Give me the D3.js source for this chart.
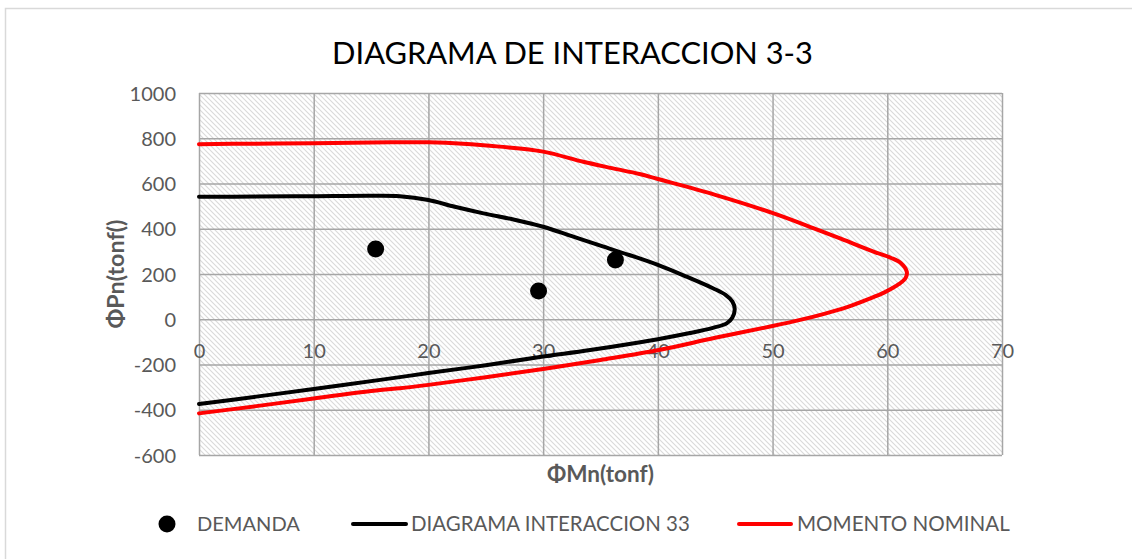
<!DOCTYPE html>
<html><head><meta charset="utf-8">
<script src="https://cdn.jsdelivr.net/npm/d3@7"></script>
<style>
html,body{margin:0;padding:0;background:#fff;}
svg{display:block;font-family:Lato,"Open Sans",sans-serif;}
</style></head>
<body>
<svg id="chart" width="1132" height="559"></svg>
<script>
// ---- data ----
const title = "DIAGRAMA DE INTERACCION 3-3";
const xTitle = "ΦMn(tonf)";
const yTitle = "ΦPn(tonf()";
const xTicks = [0, 10, 20, 30, 40, 50, 60, 70];
const yTicks = [-600, -400, -200, 0, 200, 400, 600, 800, 1000];
const seriesNames = ["DEMANDA", "DIAGRAMA INTERACCION 33", "MOMENTO NOMINAL"];

const demandaM = [15.4, 29.6, 36.3];
const demandaP = [310, 125, 262];

const diagM = [0, 5, 10, 15, 17.5, 20, 22.3, 24.8, 27.5, 30, 32.5, 35, 37.5, 40, 42.5, 44.8, 45.9, 46.5, 46.7, 46.5, 46.0, 44.8, 42.8, 40, 34.1, 30, 25, 20, 15.8, 10, 5, 0];
const diagP = [541, 542, 544, 546, 544, 527, 497, 468, 440, 409, 367, 325, 284, 240, 188, 137, 108, 78, 45, 8, -18, -38, -61, -88, -136, -165, -203, -238, -268, -308, -342, -375];

const nomM = [0, 5, 10, 15, 17.5, 20, 23, 26.2, 30, 33.5, 36, 38.4, 40, 45, 50.1, 53.6, 56, 58.8, 60.3, 61.2, 61.7, 61.6, 61.0, 59.8, 58.3, 56.5, 54.5, 52.4, 50, 45, 40.2, 35, 30, 25, 20, 17.5, 15.8, 10, 5, 0];
const nomP = [774, 776, 778, 781, 782, 782, 776, 763, 741, 696, 668, 642, 620, 550, 468, 402, 355, 299, 272, 248, 210, 183, 155, 120, 88, 54, 24, -3, -30, -82, -135, -180, -220, -256, -290, -305, -313, -350, -384, -416];

// ---- layout ----
const svg = d3.select("#chart");
const W = 1132, H = 559;
const plot = {left: 199, right: 1002, top: 93, bottom: 455};
const textColor = "#595959";

const x = d3.scaleLinear().domain([0, 70]).range([plot.left, plot.right]);
const y = d3.scaleLinear().domain([-600, 1000]).range([plot.bottom, plot.top]);

// outer chart border
svg.append("rect").attr("x", 5.5).attr("y", 8.5).attr("width", W + 20).attr("height", H + 20)
  .attr("fill", "#fff").attr("stroke", "#d9d9d9").attr("stroke-width", 1.5);

// hatch pattern
const defs = svg.append("defs");
const pat = defs.append("pattern").attr("id", "hatch").attr("patternUnits", "userSpaceOnUse")
  .attr("width", 5).attr("height", 5);
pat.append("rect").attr("width", 5).attr("height", 5).attr("fill", "#fff");
pat.append("path").attr("d", "M-1,-1 L6,6 M-1,4 L1,6 M4,-1 L6,1")
  .attr("stroke", "#dadada").attr("stroke-width", 1.1);

svg.append("rect").attr("x", plot.left).attr("y", plot.top)
  .attr("width", plot.right - plot.left).attr("height", plot.bottom - plot.top)
  .attr("fill", "url(#hatch)");

// gridlines via axes
const gridColor = "#a6a6a6";
const gx = svg.append("g").attr("transform", `translate(0,${plot.bottom})`)
  .call(d3.axisBottom(x).tickValues(xTicks).tickSize(-(plot.bottom - plot.top)).tickFormat(""));
const gy = svg.append("g").attr("transform", `translate(${plot.left},0)`)
  .call(d3.axisLeft(y).tickValues(yTicks).tickSize(-(plot.right - plot.left)).tickFormat(""));
[gx, gy].forEach(g => {
  g.select(".domain").remove();
  g.selectAll("line").attr("stroke", gridColor).attr("stroke-width", 1.5);
});

const fmt = d => String(d);

// y tick labels
const yAx = svg.append("g").attr("transform", `translate(${plot.left - 23},0)`)
  .call(d3.axisLeft(y).tickValues(yTicks).tickSize(0).tickPadding(0).tickFormat(fmt));
yAx.select(".domain").remove();
yAx.selectAll("text").attr("fill", textColor).style("font-size", "20px")
  .style("font-family", "Lato, sans-serif").attr("dy", "0.36em");

// x tick labels, placed along the zero line
const xAx = svg.append("g").attr("transform", `translate(0,${y(0)})`)
  .call(d3.axisBottom(x).tickValues(xTicks).tickSize(0).tickPadding(0).tickFormat(fmt));
xAx.select(".domain").remove();
xAx.selectAll("text").attr("fill", textColor).style("font-size", "20px")
  .style("font-family", "Lato, sans-serif").attr("dy", "1.95em");

// curves
const line = d3.line().x(d => x(d[0])).y(d => y(d[1])).curve(d3.curveCatmullRom.alpha(0.5));
const diag = diagM.map((m, i) => [m, diagP[i]]);
const nom = nomM.map((m, i) => [m, nomP[i]]);

svg.append("path").datum(diag).attr("d", line).attr("fill", "none")
  .attr("stroke", "#000").attr("stroke-width", 4).attr("stroke-linejoin", "round").attr("stroke-linecap", "round");
svg.append("path").datum(nom).attr("d", line).attr("fill", "none")
  .attr("stroke", "#ff0000").attr("stroke-width", 4).attr("stroke-linejoin", "round").attr("stroke-linecap", "round");

// demand points
svg.append("g").selectAll("circle").data(demandaM.map((m, i) => [m, demandaP[i]])).join("circle")
  .attr("cx", d => x(d[0])).attr("cy", d => y(d[1])).attr("r", 8.5).attr("fill", "#000");

// helper: fit text to a width
function fit(sel, target) {
  const w = sel.node().getComputedTextLength();
  const fs = parseFloat(sel.style("font-size"));
  sel.style("font-size", (fs * target / w) + "px");
}

// title
const t = svg.append("text").attr("x", 572.5).attr("y", 64).attr("text-anchor", "middle")
  .attr("fill", "#000").style("font-size", "32px").text(title);
fit(t, 481);

// axis titles
const xt = svg.append("text").attr("x", (plot.left + plot.right) / 2).attr("y", 482)
  .attr("text-anchor", "middle").attr("fill", textColor).style("font-weight", "bold")
  .style("font-size", "18px").text(xTitle);
fit(xt, 107);
const yt = svg.append("text").attr("transform", `translate(124,${(plot.top + plot.bottom) / 2}) rotate(-90)`)
  .attr("text-anchor", "middle").attr("fill", textColor).style("font-weight", "bold")
  .style("font-size", "18px").text(yTitle);
fit(yt, 109);

// legend
const lg = svg.append("g");
lg.append("circle").attr("cx", 167).attr("cy", 524).attr("r", 8.5).attr("fill", "#000");
const l1 = lg.append("text").attr("x", 197).attr("y", 531).attr("fill", textColor).style("font-size", "20px").text(seriesNames[0]);
fit(l1, 103);
lg.append("line").attr("x1", 353).attr("x2", 406).attr("y1", 524).attr("y2", 524)
  .attr("stroke", "#000").attr("stroke-width", 4).attr("stroke-linecap", "round");
const l2 = lg.append("text").attr("x", 411).attr("y", 531).attr("fill", textColor).style("font-size", "20px").text(seriesNames[1]);
fit(l2, 279);
lg.append("line").attr("x1", 739).attr("x2", 791).attr("y1", 524).attr("y2", 524)
  .attr("stroke", "#ff0000").attr("stroke-width", 4).attr("stroke-linecap", "round");
const l3 = lg.append("text").attr("x", 797).attr("y", 531).attr("fill", textColor).style("font-size", "20px").text(seriesNames[2]);
fit(l3, 213);
</script>
</body></html>
